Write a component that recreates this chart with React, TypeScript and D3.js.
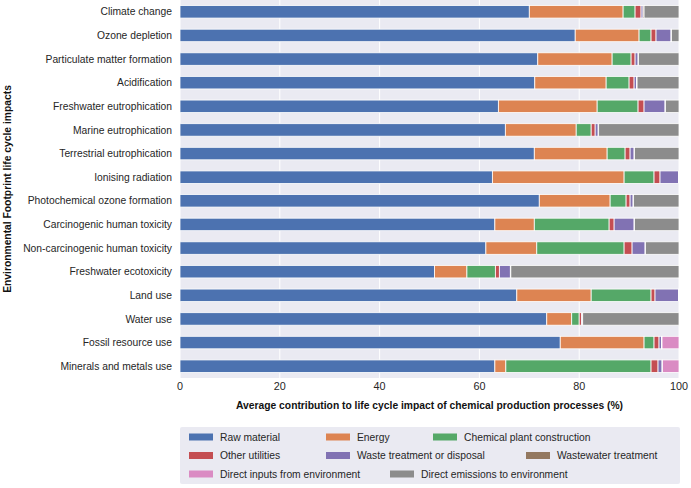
import React, { useRef, useEffect } from 'react';
import * as d3 from 'd3';

const categories = [
  'Climate change', 'Ozone depletion', 'Particulate matter formation', 'Acidification',
  'Freshwater eutrophication', 'Marine eutrophication', 'Terrestrial eutrophication',
  'Ionising radiation', 'Photochemical ozone formation', 'Carcinogenic human toxicity',
  'Non-carcinogenic human toxicity', 'Freshwater ecotoxicity', 'Land use', 'Water use',
  'Fossil resource use', 'Minerals and metals use',
];

const seriesNames = [
  'Raw material', 'Energy', 'Chemical plant construction', 'Other utilities',
  'Waste treatment or disposal', 'Wastewater treatment', 'Direct inputs from environment',
  'Direct emissions to environment',
];

const rawMaterial = [70.0, 79.2, 71.7, 71.1, 63.8, 65.2, 71.0, 62.6, 72.0, 63.1, 61.3, 51.0, 67.5, 73.5, 76.2, 63.1];
const energy = [18.8, 12.8, 14.9, 14.3, 19.8, 14.2, 14.6, 26.4, 14.2, 7.9, 10.2, 6.5, 14.9, 5.0, 16.8, 2.2];
const plantConstruction = [2.4, 2.4, 3.8, 4.6, 8.2, 3.0, 3.6, 6.0, 3.2, 15.0, 17.5, 5.7, 12.0, 1.5, 2.0, 29.1];
const otherUtilities = [1.2, 1.0, 0.8, 1.0, 1.2, 0.8, 1.0, 1.2, 0.8, 1.0, 1.6, 0.8, 0.8, 0.5, 1.0, 1.4];
const wasteTreatment = [0.4, 3.0, 0.6, 0.5, 4.2, 0.6, 0.8, 3.7, 0.6, 4.0, 2.6, 2.2, 4.7, 0.1, 0.5, 0.8];
const wastewater = [0.2, 0.1, 0.1, 0.1, 0.1, 0.1, 0.1, 0.1, 0.1, 0.1, 0.1, 0.1, 0.1, 0.1, 0.1, 0.1];
const directInputs = [0, 0, 0, 0, 0, 0, 0, 0, 0, 0, 0, 0, 0, 0, 3.4, 3.3];
const directEmissions = [7.0, 1.5, 8.1, 8.4, 2.7, 16.1, 8.9, 0, 9.1, 8.9, 6.7, 33.7, 0, 19.3, 0, 0];

const seriesValues = [rawMaterial, energy, plantConstruction, otherUtilities, wasteTreatment, wastewater, directInputs, directEmissions];
const colors = ['#4c72b0', '#dd8452', '#55a868', '#c44e52', '#8172b3', '#937860', '#da8bc3', '#8c8c8c'];
const xTicks = [0, 20, 40, 60, 80, 100];

// legend placement (row, x of swatch)
const legendLayout = [[0, 189], [0, 326], [0, 433], [1, 189], [1, 326], [1, 526], [2, 189], [2, 390]];

const App = () => {
  const svgRef = useRef(null);

  useEffect(() => {
    const W = 691, H = 488;
    const m = { left: 180, right: 12, top: 0, bottom: 110 };
    const font = 'Liberation Sans, Arial, sans-serif';
    const fs = 10.3;
    const svg = d3.select(svgRef.current).attr('width', W).attr('height', H);
    svg.selectAll('*').remove();

    const x = d3.scaleLinear().domain([0, 100]).range([m.left, W - m.right]);
    const y = d3.scaleBand().domain(categories).range([m.top, H - m.bottom]).paddingInner(0).paddingOuter(0);

    svg.append('rect')
      .attr('x', m.left).attr('y', m.top)
      .attr('width', x(100) - x(0)).attr('height', y.range()[1] - m.top)
      .attr('fill', '#eaeaf2');

    // grid
    svg.append('g').selectAll('line').data(xTicks).join('line')
      .attr('x1', d => x(d)).attr('x2', d => x(d))
      .attr('y1', m.top).attr('y2', y.range()[1])
      .attr('stroke', '#fff').attr('stroke-width', 1);
    svg.append('g').selectAll('line').data(categories).join('line')
      .attr('x1', x(0)).attr('x2', x(100))
      .attr('y1', d => y(d) + y.bandwidth() / 2).attr('y2', d => y(d) + y.bandwidth() / 2)
      .attr('stroke', '#fff').attr('stroke-width', 1);

    const rows = categories.map((c, i) => {
      const r = { cat: c };
      seriesNames.forEach((s, j) => { r[s] = seriesValues[j][i]; });
      return r;
    });
    const stacked = d3.stack().keys(seriesNames)(rows);
    const barH = 12.5;

    svg.append('g').selectAll('g').data(stacked).join('g')
      .attr('fill', (d, i) => colors[i])
      .selectAll('rect').data(d => d.filter(p => p[1] - p[0] > 0)).join('rect')
      .attr('x', d => x(d[0]))
      .attr('width', d => x(d[1]) - x(d[0]))
      .attr('y', d => y(d.data.cat) + (y.bandwidth() - barH) / 2)
      .attr('height', barH)
      .attr('stroke', '#fff').attr('stroke-width', 0.8);

    // y labels
    svg.append('g').selectAll('text').data(categories).join('text')
      .attr('x', m.left - 8).attr('y', d => y(d) + y.bandwidth() / 2)
      .attr('dy', '0.35em').attr('text-anchor', 'end')
      .attr('font-family', font).attr('font-size', fs).attr('fill', '#262626')
      .text(d => d);

    // x tick labels
    svg.append('g').selectAll('text').data(xTicks).join('text')
      .attr('x', d => x(d)).attr('y', y.range()[1] + 12)
      .attr('text-anchor', 'middle')
      .attr('font-family', font).attr('font-size', fs + 0.5).attr('fill', '#262626')
      .text(d => d);

    svg.append('text')
      .attr('x', (x(0) + x(100)) / 2).attr('y', y.range()[1] + 31)
      .attr('text-anchor', 'middle')
      .attr('font-family', font).attr('font-size', fs).attr('font-weight', 'bold').attr('fill', '#111')
      .text('Average contribution to life cycle impact of chemical production processes (%)');

    svg.append('text')
      .attr('transform', `translate(11, ${(m.top + y.range()[1]) / 2}) rotate(-90)`)
      .attr('text-anchor', 'middle')
      .attr('font-family', font).attr('font-size', fs).attr('font-weight', 'bold').attr('fill', '#111')
      .text('Environmental Footprint life cycle impacts');

    // legend
    const lg = svg.append('g');
    lg.append('rect')
      .attr('x', 180).attr('y', 427).attr('width', 500).attr('height', 57)
      .attr('fill', '#eaeaf2').attr('rx', 2);
    const rowY = [437, 455.5, 474];
    seriesNames.forEach((s, i) => {
      const [row, lx] = legendLayout[i];
      lg.append('rect')
        .attr('x', lx).attr('y', rowY[row] - 3.5).attr('width', 24).attr('height', 7)
        .attr('fill', colors[i]);
      lg.append('text')
        .attr('x', lx + 31).attr('y', rowY[row]).attr('dy', '0.35em')
        .attr('font-family', font).attr('font-size', fs).attr('fill', '#262626')
        .text(s);
    });
  }, []);

  return <svg ref={svgRef} style={{ position: 'absolute', left: 0, top: 0 }}></svg>;
};

export default App;
